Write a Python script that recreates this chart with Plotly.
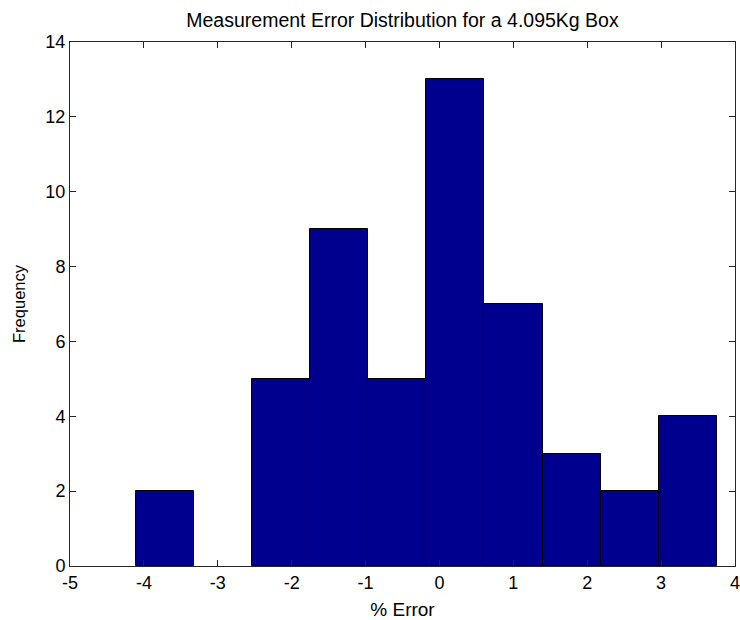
import plotly.graph_objects as go

# Histogram bins (% error) and frequencies
bin_centers = [-3.718, -2.931, -2.144, -1.358, -0.571, 0.216, 1.002, 1.789, 2.576, 3.362]
counts = [2, 0, 5, 9, 5, 13, 7, 3, 2, 4]
bin_width = 0.787

x_ticks = [-5, -4, -3, -2, -1, 0, 1, 2, 3, 4]
y_ticks = [0, 2, 4, 6, 8, 10, 12, 14]

font_family = "Liberation Sans, Arial, sans-serif"

# empty bins get no outline so nothing is drawn for them
edge_widths = [1 if c > 0 else 0 for c in counts]

fig = go.Figure(
    go.Bar(
        x=bin_centers,
        y=counts,
        width=[bin_width] * len(bin_centers),
        marker=dict(color="#00008F", line=dict(color="black", width=edge_widths)),
    )
)

axis_common = dict(
    showgrid=False,
    zeroline=False,
    showline=True,
    linecolor="#262626",
    linewidth=1,
    mirror="ticks",
    ticks="inside",
    ticklen=6,
    tickcolor="#262626",
    ticklabeloverflow="allow",
    automargin=False,
    tickfont=dict(family=font_family, size=18, color="black"),
)

fig.update_layout(
    width=740,
    height=620,
    margin=dict(l=70, r=5, t=42, b=54),
    paper_bgcolor="white",
    plot_bgcolor="white",
    showlegend=False,
    bargap=0,
    title=dict(
        text="Measurement Error Distribution for a 4.095Kg Box",
        x=0.5,
        xanchor="center",
        xref="paper",
        y=0.968,
        yanchor="middle",
        font=dict(family=font_family, size=19.5, color="black"),
    ),
    xaxis=dict(
        range=[-5, 4],
        tickvals=x_ticks,
        ticktext=[str(v) for v in x_ticks],
        title=dict(text="% Error", font=dict(family=font_family, size=19, color="black")),
        **axis_common,
    ),
    yaxis=dict(
        range=[0, 14],
        tickvals=y_ticks,
        ticktext=[str(v) for v in y_ticks],
        title=dict(text="Frequency", font=dict(family=font_family, size=16.5, color="black")),
        **axis_common,
    ),
)

fig.write_html("out.html")
